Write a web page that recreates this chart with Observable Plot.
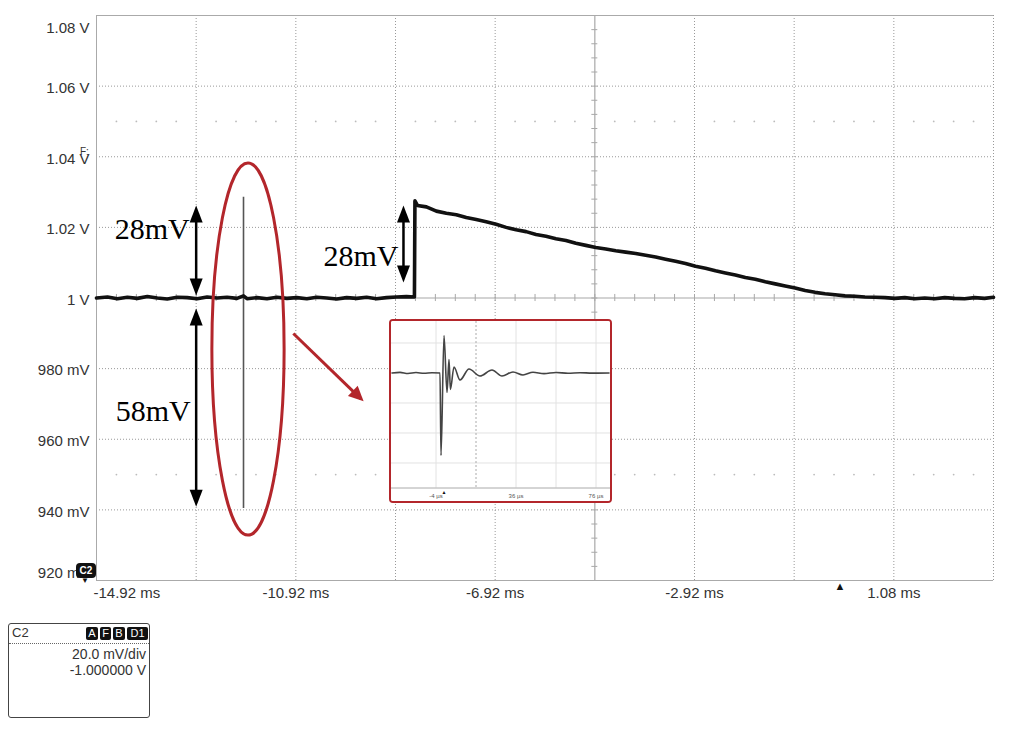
<!DOCTYPE html>
<html><head><meta charset="utf-8">
<script src="https://cdn.jsdelivr.net/npm/d3@7"></script>
<script src="https://cdn.jsdelivr.net/npm/@observablehq/plot@0.6"></script>
<style>
body{margin:0;background:#fff;font-family:"Liberation Sans",Arial,sans-serif;}
#wrap{position:relative;width:1015px;height:729px;overflow:hidden;}
#main{position:absolute;left:0;top:0;}
#inset{position:absolute;left:389px;top:319px;width:219px;height:180px;border:2.5px solid #b3262b;border-radius:4px;background:#fff;overflow:hidden;}
#c2badge{position:absolute;left:76px;top:563px;width:20px;height:15px;background:#111;color:#fff;border-radius:4px;font-size:10px;font-weight:bold;line-height:15px;text-align:center;}
#c2tri{position:absolute;left:81px;top:576px;font-size:8px;color:#111;}
#fmark{position:absolute;left:80px;top:146px;font-size:10px;color:#333;}
#info{position:absolute;left:8px;top:623px;width:140px;height:93px;border:1px solid #444;border-radius:3px;color:#333;font-size:14px;}
#info .hdr{position:relative;height:19px;border-bottom:1px dotted #666;}
#info .c2{position:absolute;left:3px;top:1px;font-size:13px;}
#info .bd{position:absolute;top:3px;height:13px;background:#111;color:#fff;font-size:11px;line-height:13px;text-align:center;border-radius:2px;}
#info .r{text-align:right;padding-right:3px;line-height:16px;}
</style></head><body>
<div id="wrap">
<div id="main"></div>
<div id="inset"></div>
<div id="c2badge">C2</div>
<div id="c2tri">▼</div>
<div id="fmark">F:</div>
<div id="info">
  <div class="hdr"><span class="c2">C2</span>
    <span class="bd" style="left:77px;width:12px">A</span>
    <span class="bd" style="left:91px;width:11px">F</span>
    <span class="bd" style="left:104px;width:12px">B</span>
    <span class="bd" style="left:118px;width:21px">D1</span>
  </div>
  <div class="r" style="margin-top:2px">20.0 mV/div</div>
  <div class="r">-1.000000 V</div>
</div>
</div>
<script>
// ---------- data ----------
const timeMs = [-14.92,-14.7,-14.5,-14.3,-14.1,-13.9,-13.7,-13.5,-13.3,-13.1,-12.9,-12.7,-12.5,-12.3,-12.1,-11.97,-11.9,-11.7,-11.5,-11.3,-11.1,-10.9,-10.7,-10.5,-10.3,-10.1,-9.9,-9.7,-9.5,-9.3,-9.1,-8.9,-8.7,-8.54,
  -8.53,-8.48,-8.3,-8.1,-7.9,-7.7,-7.5,-7.3,-7.1,-6.9,-6.7,-6.5,-6.3,-6.1,-5.9,-5.7,-5.5,-5.3,-5.1,-4.9,-4.7,-4.5,-4.3,-4.1,-3.9,-3.7,-3.5,-3.3,-3.1,-2.9,-2.7,-2.5,-2.3,-2.1,-1.9,-1.7,-1.5,-1.3,-1.1,-0.9,-0.7,-0.5,-0.3,-0.1,0.1,0.3,0.5,0.7,0.9,1.1,1.3,1.5,1.7,1.9,2.1,2.3,2.5,2.7,2.9,3.08];
const voltV = [1.0000,1.0003,0.9998,1.0002,0.9999,1.0004,1.0000,0.9997,1.0002,1.0001,0.9998,1.0003,1.0000,1.0002,0.9999,1.0006,0.9998,1.0001,0.9998,1.0002,0.9999,1.0001,0.9998,1.0002,1.0000,0.9997,1.0001,0.9999,1.0002,0.9998,1.0001,1.0003,1.0004,1.0003,
  1.0275,1.0262,1.0258,1.0246,1.0240,1.0236,1.0228,1.0222,1.0216,1.0209,1.0200,1.0193,1.0188,1.0180,1.0175,1.0168,1.0163,1.0155,1.0149,1.0143,1.0139,1.0134,1.0130,1.0126,1.0121,1.0116,1.0110,1.0104,1.0098,1.0090,1.0084,1.0077,1.0071,1.0065,1.0058,1.0053,1.0046,1.0040,1.0034,1.0028,1.0021,1.0016,1.0012,1.0009,1.0006,1.0005,1.0003,1.0002,1.0001,0.9999,1.0001,0.9998,1.0000,0.9998,1.0001,0.9999,0.9998,1.0001,0.9999,1.0002];
const spikeMs = [-11.97];
const spikeTop = [1.0285];
const spikeBottom = [0.9404];

const xGridMs = [-12.92,-10.92,-8.92,-6.92,-2.92,-0.92,1.08];
const xCenterMs = [-4.92];
const xTickMs = [-14.92,-10.92,-6.92,-2.92,1.08];
const xTickLabels = ["-14.92 ms","-10.92 ms","-6.92 ms","-2.92 ms","1.08 ms"];
const yGridV = [1.06,1.04,1.02,0.98,0.96,0.94];
const yCenterV = [1.0];
const yTickV = [1.08,1.06,1.04,1.02,1.0,0.98,0.96,0.94,0.92];
const yTickLabels = ["1.08 V","1.06 V","1.04 V","1.02 V","1 V","980 mV","960 mV","940 mV","920 mV"];
const dotRowsV = [1.05,0.95];
const triggerMs = [0];

// annotations (in data units)
const dimArrows = [
  {x:-12.92, top:1.0262, bottom:1.0007},
  {x:-12.92, top:0.9970, bottom:0.9409},
  {x:-8.76,  top:1.0262, bottom:1.0044}
];
const dimLabels = [
  {x:-13.05, y:1.0194, text:"28mV"},
  {x:-13.03, y:0.9678, text:"58mV"},
  {x:-8.86,  y:1.0118, text:"28mV"}
];
const ellipses = [{cx:-11.87, cy:0.98541, rx:0.725, ry:0.0527}];
const pointer = [{x1:-10.97, y1:0.98994, x2:-9.62, y2:0.97150, tx:-9.56, ty:0.97075}];

// inset data
const insetUs = [-26,-22,-18,-14,-10,-6,-2,-1.5,0,1.5,2.5,3.2,5,8,12.5,18,24,29,34.5,39.5,44.5,50,56,62,68,74,82.5];
const insetMv = [1000,1000.4,999.7,1000.3,999.8,1000.2,1000,945,1025,987,1009,989,1004,995.3,1002.7,998,1002,998,1000.7,998.7,1000.5,999.6,1000.3,999.8,1000.2,999.9,1000];
const insetGridUs = [-4,36,56,76];
const insetCenterUs = [16];
const insetGridMv = [1020,980,960,940];
const insetTickUs = [-4,36,76];
const insetTickLabels = ["-4 µs","36 µs","76 µs"];

// ---------- helpers ----------
function head(angleDeg, len, half) {
  const a = angleDeg * Math.PI / 180;
  const dx = Math.sin(a), dy = -Math.cos(a);   // direction of tip
  const px = -dy, py = dx;                     // perpendicular
  return {draw(ctx) {
    ctx.moveTo(0, 0);
    ctx.lineTo(-dx*len + px*half, -dy*len + py*half);
    ctx.lineTo(-dx*len - px*half, -dy*len - py*half);
    ctx.closePath();
  }};
}
const headUp = head(0, 17, 6.5), headDown = head(180, 17, 6.5), headPointer = head(134, 15, 7);
const red = "#b3262b";
const font = "Liberation Sans, Arial, sans-serif";

const minorX = d3.range(0, 46).map(i => -14.92 + i*0.4);
const dotRowPts = dotRowsV.flatMap(v => minorX.filter((d,i) => i % 5 !== 0).map(x => ({x, y:v})));
const vTicks = d3.range(0, 41).map(i => 0.92 + i*0.004);

const ellipseMark = (index, scales) => {
  const g = d3.create("svg:g");
  for (const e of ellipses) {
    const cx = scales.x(e.cx), cy = scales.y(e.cy);
    g.append("ellipse").attr("cx", cx).attr("cy", cy)
      .attr("rx", Math.abs(scales.x(e.cx + e.rx) - cx))
      .attr("ry", Math.abs(scales.y(e.cy + e.ry) - cy))
      .attr("fill", "none").attr("stroke", red).attr("stroke-width", 3);
  }
  return g.node();
};

const trace = timeMs.map((t,i) => ({t, v: voltV[i]}));
const labelIdx = yTickV.map((v,i)=>i);

const main = Plot.plot({
  width: 1015, height: 610,
  marginLeft: 96, marginRight: 22, marginTop: 15, marginBottom: 30,
  style: {fontFamily: font, background: "#fff", overflow: "visible"},
  x: {domain: [-14.92, 3.08], axis: null},
  y: {domain: [0.92, 1.08], axis: null},
  marks: [
    Plot.ruleX(xGridMs, {stroke: "#999", strokeDasharray: "1,2", strokeWidth: 1}),
    Plot.ruleY(yGridV, {stroke: "#999", strokeDasharray: "1,2", strokeWidth: 1}),
    Plot.ruleX([3.08], {stroke: "#999", strokeDasharray: "1,2"}),
    Plot.dot(dotRowPts, {x: "x", y: "y", r: 0.9, fill: "#bbb", stroke: null}),
    Plot.ruleX(xCenterMs, {stroke: "#a8a8a8", strokeWidth: 1.2}),
    Plot.ruleY(yCenterV, {stroke: "#a8a8a8", strokeWidth: 1.2}),
    Plot.ruleX(minorX, {y1: 0.999, y2: 1.001, stroke: "#a8a8a8"}),
    Plot.ruleY(vTicks, {x1: -4.98, x2: -4.86, stroke: "#a8a8a8"}),
    Plot.ruleX([-14.92], {stroke: "#aaa"}),
    Plot.ruleY([1.08, 0.92], {stroke: "#aaa"}),
    // y labels
    Plot.text(labelIdx.filter(i => yTickV[i] === 1.08), {y: i => yTickV[i], text: i => yTickLabels[i], frameAnchor: "left", textAnchor: "end", dx: -7, dy: 13, fontSize: 15, fill: "#333"}),
    Plot.text(labelIdx.filter(i => yTickV[i] !== 1.08 && yTickV[i] !== 0.92), {y: i => yTickV[i], text: i => yTickLabels[i], frameAnchor: "left", textAnchor: "end", dx: -7, dy: 2, fontSize: 15, fill: "#333"}),
    Plot.text(labelIdx.filter(i => yTickV[i] === 0.92), {y: i => yTickV[i], text: i => yTickLabels[i], frameAnchor: "left", textAnchor: "end", dx: -7, dy: -7, fontSize: 15, fill: "#333"}),
    // x labels
    Plot.text([0], {x: i => xTickMs[i], text: i => xTickLabels[i], frameAnchor: "bottom", textAnchor: "start", lineAnchor: "middle", dx: -3, dy: 13, fontSize: 15, fill: "#333"}),
    Plot.text([1,2,3,4], {x: i => xTickMs[i], text: i => xTickLabels[i], frameAnchor: "bottom", textAnchor: "middle", lineAnchor: "middle", dx: 0, dy: 13, fontSize: 15, fill: "#333"}),
    Plot.text(triggerMs, {x: d => d, text: () => "▲", frameAnchor: "bottom", lineAnchor: "middle", dy: 6, fontSize: 11, fill: "#111"}),
    // signal
    Plot.ruleX(spikeMs, {y1: (d,i) => spikeTop[i], y2: (d,i) => spikeBottom[i], stroke: "#555", strokeWidth: 1.6}),
    Plot.line(trace, {x: "t", y: "v", stroke: "#111", strokeWidth: 3.6, strokeLinejoin: "round"}),
    // annotations
    Plot.ruleX(dimArrows, {x: "x", y1: d => d.top - 0.004, y2: d => d.bottom + 0.004, stroke: "#000", strokeWidth: 2.5}),
    Plot.dot(dimArrows, {x: "x", y: "top", symbol: headUp, fill: "#000", stroke: null}),
    Plot.dot(dimArrows, {x: "x", y: "bottom", symbol: headDown, fill: "#000", stroke: null}),
    Plot.text(dimLabels, {x: "x", y: "y", text: "text", textAnchor: "end", fontSize: 30, fontFamily: "Liberation Serif, Times New Roman, serif", fill: "#000"}),
    ellipseMark,
    Plot.link(pointer, {x1: "x1", y1: "y1", x2: "x2", y2: "y2", stroke: red, strokeWidth: 3}),
    Plot.dot(pointer, {x: "tx", y: "ty", symbol: headPointer, fill: red, stroke: null})
  ]
});
document.getElementById("main").appendChild(main);

const insetData = insetUs.map((t,i) => ({t, v: insetMv[i]}));
const inset = Plot.plot({
  width: 219, height: 180,
  marginLeft: 0, marginRight: 0, marginTop: 0, marginBottom: 13.5,
  style: {fontFamily: font, background: "#fff", overflow: "visible"},
  x: {domain: [-26.25, 83.25], axis: null},
  y: {domain: [923.33, 1034.33], axis: null},
  marks: [
    Plot.ruleX(insetGridUs, {stroke: "#e2e2e2"}),
    Plot.ruleY(insetGridMv, {stroke: "#e2e2e2"}),
    Plot.ruleX(insetCenterUs, {stroke: "#aaa", strokeDasharray: "2,2"}),
    Plot.ruleY([923.33], {stroke: "#aaa"}),
    Plot.text(insetTickUs, {x: d => d, text: (d,i) => insetTickLabels[i], frameAnchor: "bottom", lineAnchor: "middle", dy: 8, fontSize: 6, fill: "#555"}),
    Plot.text([0], {x: d => d, text: () => "▲", frameAnchor: "bottom", lineAnchor: "middle", dy: 4, fontSize: 5, fill: "#111"}),
    Plot.line(insetData, {x: "t", y: "v", stroke: "#444", strokeWidth: 1.6, curve: "monotone-x"})
  ]
});
document.getElementById("inset").appendChild(inset);
</script>
</body></html>
